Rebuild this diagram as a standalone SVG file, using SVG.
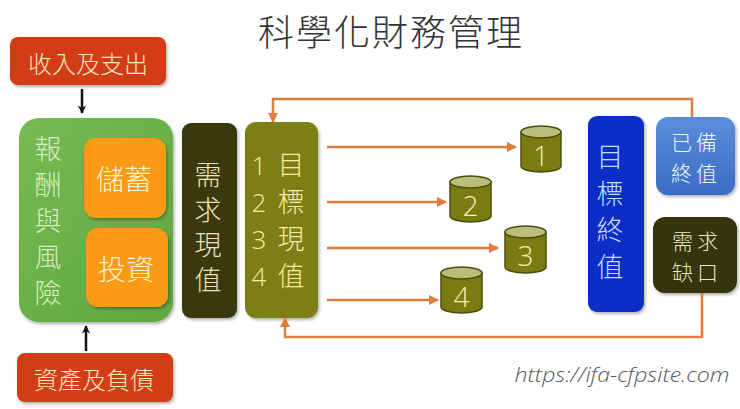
<svg xmlns="http://www.w3.org/2000/svg" width="740" height="409" viewBox="0 0 740 409">
<style>
.cjk{font-family:"Noto Sans CJK TC","Noto Sans CJK SC",sans-serif;font-weight:300;}
.num{font-family:"Open Sans","Noto Sans",sans-serif;font-weight:300;}
.c{text-anchor:middle;dominant-baseline:central;}
.vt{writing-mode:vertical-rl;text-orientation:upright;}
.conn{fill:none;stroke:#E27B3C;stroke-width:2.5;}
.blk{fill:none;stroke:#111;stroke-width:2.5;}
.cyl{fill:#7A7C12;stroke:#4C4E0B;stroke-width:1.5;}
.cyltop{fill:#B9BE7A;stroke:#4C4E0B;stroke-width:1.5;}
.cyltxt{fill:#F3EDB0;font-size:28px;}
</style>
<defs>
<marker id="ah" viewBox="0 0 10 10" refX="9" refY="5" markerWidth="4" markerHeight="4" orient="auto">
<path d="M0,0 L10,5 L0,10 z" fill="#E27B3C"/>
</marker>
<marker id="bh" viewBox="0 0 10 10" refX="9" refY="5" markerWidth="3.4" markerHeight="3.4" orient="auto">
<path d="M0,0 L10,5 L0,10 L3,5 z" fill="#111"/>
</marker>
<filter id="sh" x="-10%" y="-10%" width="130%" height="130%">
<feDropShadow dx="1.5" dy="2" stdDeviation="1.5" flood-color="#000" flood-opacity="0.3"/>
</filter>
<linearGradient id="gBlue" x1="0" y1="0" x2="0" y2="1">
<stop offset="0" stop-color="#5A8FDA"/><stop offset="1" stop-color="#3B6CC4"/>
</linearGradient>
<linearGradient id="gGreen" x1="0" y1="0" x2="1" y2="1">
<stop offset="0" stop-color="#78BA55"/><stop offset="1" stop-color="#5FA73F"/>
</linearGradient>
</defs>

<rect width="740" height="409" fill="#fff"/>

<text id="title" class="cjk" x="391" y="46" text-anchor="middle" font-size="36" letter-spacing="2" fill="#333">科學化財務管理</text>

<g id="income">
<rect x="10" y="37" width="156" height="48" rx="8" fill="#D23C12" filter="url(#sh)"/>
<text class="cjk c" x="88" y="62" font-size="24" fill="#F8E6C4">收入及支出</text>
</g>

<g id="assets">
<rect x="17" y="353" width="156" height="49" rx="8" fill="#D23C12" filter="url(#sh)"/>
<text class="cjk c" x="94" y="378" font-size="24" fill="#F8E6C4">資產及負債</text>
</g>

<g id="reward">
<rect x="19" y="118" width="154" height="204" rx="20" fill="url(#gGreen)" filter="url(#sh)"/>
<text class="cjk vt" x="48" y="135.5" font-size="27" letter-spacing="9" fill="#D6EFC0">報酬與風險</text>
</g>

<g id="saving">
<rect x="84" y="138" width="82" height="80" rx="12" fill="#FA9A12" filter="url(#sh)"/>
<text class="cjk c" x="124" y="178" font-size="28" fill="#FFF2CC">儲蓄</text>
</g>

<g id="invest">
<rect x="86" y="228" width="82" height="79" rx="12" fill="#FA9A12" filter="url(#sh)"/>
<text class="cjk c" x="126" y="268" font-size="28" fill="#FFF2CC">投資</text>
</g>

<g id="needpv">
<rect x="182" y="123" width="55" height="195" rx="9" fill="#3A390C" filter="url(#sh)"/>
<text class="cjk vt" x="208" y="161.5" font-size="27" letter-spacing="8" fill="#E8E2BC">需求現值</text>
</g>

<g id="goalpv">
<rect x="245" y="122" width="73" height="196" rx="11" fill="#7D7E12" filter="url(#sh)"/>
<text class="num c" font-size="26" fill="#F4EAA4">
<tspan x="259" y="165">1</tspan><tspan x="259" y="202">2</tspan><tspan x="259" y="239">3</tspan><tspan x="259" y="276">4</tspan>
</text>
<text class="cjk vt" x="291" y="151.5" font-size="27" letter-spacing="10" fill="#F4EAA4">目標現值</text>
</g>

<g id="cyl1">
<path class="cyl" d="M521,132 L521,166 A20,6 0 0 0 561,166 L561,132 Z"/>
<ellipse class="cyltop" cx="541" cy="132" rx="20" ry="6"/>
<text class="num c cyltxt" x="541" y="155">1</text>
</g>
<g id="cyl2">
<path class="cyl" d="M450,182 L450,216 A20.5,6 0 0 0 491,216 L491,182 Z"/>
<ellipse class="cyltop" cx="470.5" cy="182" rx="20.5" ry="6"/>
<text class="num c cyltxt" x="470.5" y="205">2</text>
</g>
<g id="cyl3">
<path class="cyl" d="M505,232 L505,267 A20.5,6 0 0 0 546,267 L546,232 Z"/>
<ellipse class="cyltop" cx="525.5" cy="232" rx="20.5" ry="6"/>
<text class="num c cyltxt" x="525.5" y="255">3</text>
</g>
<g id="cyl4">
<path class="cyl" d="M441,273 L441,307 A20.5,6 0 0 0 482,307 L482,273 Z"/>
<ellipse class="cyltop" cx="461.5" cy="273" rx="20.5" ry="6"/>
<text class="num c cyltxt" x="461.5" y="296">4</text>
</g>

<g id="goalfv">
<rect x="588" y="116" width="56" height="196" rx="9" fill="#0C2FC6" filter="url(#sh)"/>
<text class="cjk vt" x="610" y="143.5" font-size="27" letter-spacing="9.5" fill="#C4DAFF">目標終值</text>
</g>

<g id="readyfv">
<rect x="656" y="117" width="79" height="78" rx="12" fill="url(#gBlue)" filter="url(#sh)"/>
<text class="cjk c" x="696" y="140.5" font-size="21" letter-spacing="4" fill="#F2F6FF">已備</text>
<text class="cjk c" x="696" y="172" font-size="21" letter-spacing="4" fill="#F2F6FF">終值</text>
</g>

<g id="gap">
<rect x="653" y="217" width="84" height="76" rx="12" fill="#36340B" filter="url(#sh)"/>
<text class="cjk c" x="697" y="239.5" font-size="21" letter-spacing="4" fill="#EDE6C0">需求</text>
<text class="cjk c" x="697" y="271" font-size="21" letter-spacing="4" fill="#EDE6C0">缺口</text>
</g>

<g id="connectors">
<line class="blk" x1="82" y1="89" x2="82" y2="113" marker-end="url(#bh)"/>
<line class="blk" x1="86" y1="351" x2="86" y2="326" marker-end="url(#bh)"/>
<line class="conn" x1="327" y1="147" x2="516" y2="147" marker-end="url(#ah)"/>
<line class="conn" x1="327" y1="202" x2="446" y2="202" marker-end="url(#ah)"/>
<line class="conn" x1="327" y1="248" x2="498" y2="248" marker-end="url(#ah)"/>
<line class="conn" x1="327" y1="300" x2="438" y2="300" marker-end="url(#ah)"/>
<polyline class="conn" points="692,117 692,99 273,99 273,122" marker-end="url(#ah)"/>
<polyline class="conn" points="702,293 702,337 285,337 285,318" marker-end="url(#ah)"/>
</g>

<text id="url" x="622" y="382" text-anchor="middle" font-family="'Open Sans','Noto Sans',sans-serif" font-style="italic" font-weight="300" font-size="20" fill="#555" textLength="215" lengthAdjust="spacingAndGlyphs">https://ifa-cfpsite.com</text>
</svg>
